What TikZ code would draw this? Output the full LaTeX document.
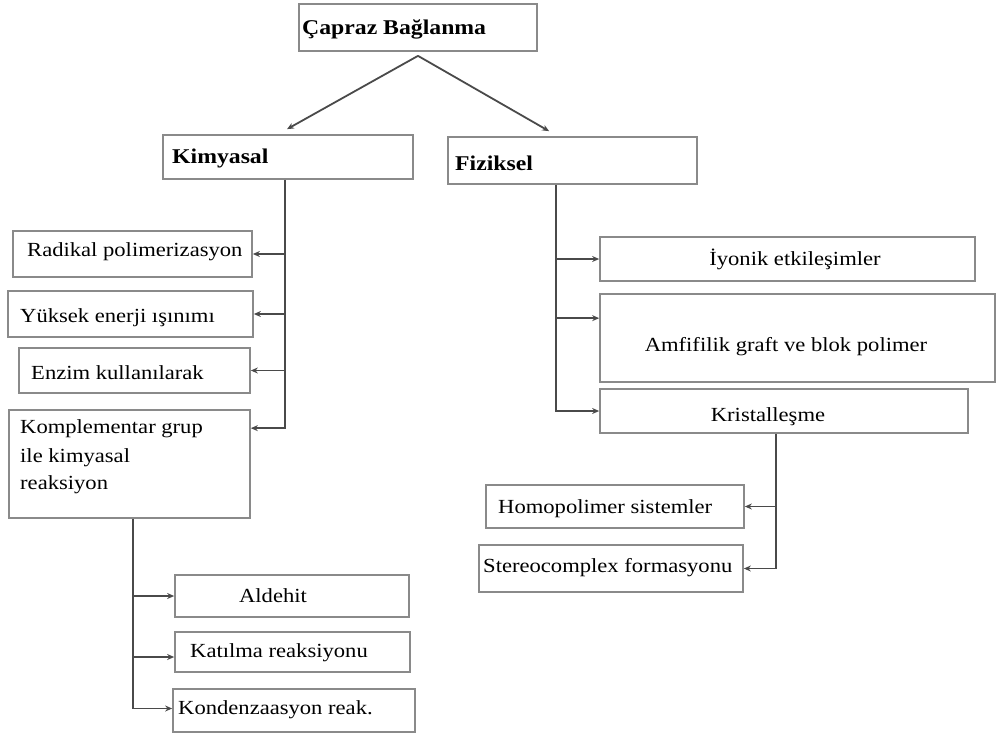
\documentclass[tikz,border=0pt]{standalone}
\usepackage{fontspec}
\setmainfont[FakeStretch=1.13,Ligatures=NoCommon]{Liberation Serif}
\usetikzlibrary{arrows.meta,fit}
\definecolor{boxgray}{HTML}{8A8A8A}
\definecolor{linegray}{HTML}{4A4A4A}
\tikzset{
  box/.style={draw=boxgray,line width=1.7pt,fill=white,inner sep=0pt},
  txt/.style={inner sep=0pt,font=\fontsize{20}{22}\selectfont,anchor=base west},
  ctxt/.style={txt,anchor=base},
  btxt/.style={txt,font=\fontsize{21}{22}\selectfont\bfseries},
  ln/.style={draw=linegray,line width=1.8pt},
  arr/.style={ln,-{Stealth[length=7pt,width=6pt]}}
}
\begin{document}
\begin{tikzpicture}[x=1pt,y=-1pt]
\useasboundingbox (0,0) rectangle (997,740);
% boxes
\node[box,fit={(299,4) (537,51)}] (top) {};
\node[box,fit={(163,135) (413,179)}] (kim) {};
\node[box,fit={(448,137) (697,184)}] (fiz) {};
\node[box,fit={(13,231) (252,277)}] (rad) {};
\node[box,fit={(8,291) (253,337)}] (yuk) {};
\node[box,fit={(19,348) (250,393)}] (enz) {};
\node[box,fit={(9,410) (250,518)}] (komp) {};
\node[box,fit={(175,575) (409,617)}] (ald) {};
\node[box,fit={(175,632) (410,672)}] (kat) {};
\node[box,fit={(173,689) (415,732)}] (kon) {};
\node[box,fit={(600,237) (975,281)}] (iyo) {};
\node[box,fit={(600,294) (995,382)}] (amf) {};
\node[box,fit={(600,389) (968,433)}] (kri) {};
\node[box,fit={(486,485) (744,528)}] (hom) {};
\node[box,fit={(479,545) (743,592)}] (ste) {};
% texts
\node[btxt] (t-top) at (302,34) {Çapraz Bağlanma};
\node[btxt] (t-kim) at (172,163) {Kimyasal};
\node[btxt] (t-fiz) at (455,170) {Fiziksel};
\node[txt] (t-rad) at (27,256) {Radikal polimerizasyon};
\node[txt] (t-yuk) at (20,322) {Yüksek enerji ışınımı};
\node[txt] (t-enz) at (31,379) {Enzim kullanılarak};
\node[txt] (t-komp1) at (20,433) {Komplementar grup};
\node[txt] (t-komp2) at (20,462) {ile kimyasal};
\node[txt] (t-komp3) at (20,489) {reaksiyon};
\node[ctxt] (t-ald) at (273,602) {Aldehit};
\node[txt] (t-kat) at (190,657) {Katılma reaksiyonu};
\node[txt] (t-kon) at (178,714) {Kondenzaasyon reak.};
\node[ctxt] (t-iyo) at (795,265) {İyonik etkileşimler};
\node[ctxt] (t-amf) at (786,351) {Amfifilik graft ve blok polimer};
\node[ctxt] (t-kri) at (768,421) {Kristalleşme};
\node[txt] (t-hom) at (498,513) {Homopolimer sistemler};
\node[txt] (t-ste) at (483,572) {Stereocomplex formasyonu};
% connector end points
\coordinate (kimin) at ([yshift=5pt,xshift=-1pt]kim.north);
\coordinate (fizin) at ([yshift=5pt,xshift=102pt]fiz.north west);
\coordinate (topout) at ([yshift=-4pt]top.south);
\coordinate (kompin) at ([yshift=-19pt]komp.north east);
\coordinate (konin) at ([yshift=2pt]kon.west);
\coordinate (katin) at ([yshift=-5pt]kat.west);
\coordinate (amfin) at ([yshift=-25pt]amf.north west);
% connectors
\draw[arr] (topout) -- (kimin);
\draw[arr] (topout) -- (fizin);
\coordinate (kx) at (285,0);
\draw[arr] (kim.south -| kx) |- (kompin);
\draw[arr] (kx |- rad.east) -- (rad.east);
\draw[arr] (kx |- yuk.east) -- (yuk.east);
\draw[arr] (kx |- enz.east) -- (enz.east);
\coordinate (cx) at (133,0);
\draw[arr] (komp.south -| cx) |- (konin);
\draw[arr] (cx |- ald.west) -- (ald.west);
\draw[arr] (cx |- katin) -- (katin);
\coordinate (fx) at (556,0);
\draw[arr] (fiz.south -| fx) |- (kri.west);
\draw[arr] (fx |- iyo.west) -- (iyo.west);
\draw[arr] (fx |- amfin) -- (amfin);
\coordinate (rx) at (776,0);
\draw[arr] (kri.south -| rx) |- (ste.east);
\draw[arr] (rx |- hom.east) -- (hom.east);
\end{tikzpicture}
\end{document}
